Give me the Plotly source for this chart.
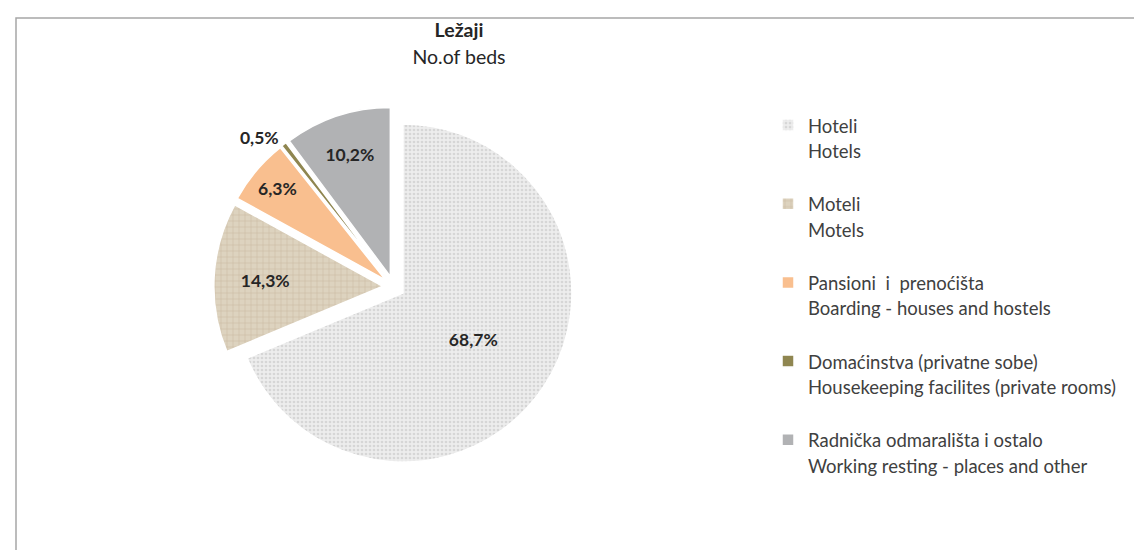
import plotly.graph_objects as go

categories_sr = ["Hoteli", "Moteli", "Pansioni  i  prenoćišta", "Domaćinstva (privatne sobe)", "Radnička odmarališta i ostalo"]
categories_en = ["Hotels", "Motels", "Boarding - houses and hostels", "Housekeeping facilites (private rooms)", "Working resting - places and other"]
values = [68.7, 14.3, 6.3, 0.5, 10.2]

colors = ["#ededed", "#ddd3bf", "#f9bf8f", "#8f8650", "#b1b2b4"]
pattern_shapes = [".", "+", "", "", ""]
pattern_fg = ["#d6d6d6", "#c4b69c", "#f9bf8f", "#8f8650", "#b1b2b4"]

FS = 18.5
legend_labels = [
    f"<span style='font-size:{FS}px'>{a}</span><br><span style='font-size:{FS}px'>{b}</span><br> "
    for a, b in zip(categories_sr, categories_en)
]
text_labels = [f"{v:.1f}".replace(".", ",") + "%" for v in values]
positions = ["inside", "inside", "inside", "outside", "inside"]

W, H = 1142, 550
cx, cy, r, pull = 385.8, 278.9, 169, 0.065
half = r * (1 + pull)

fig = go.Figure(go.Pie(
    labels=legend_labels,
    values=values,
    text=text_labels,
    textinfo="text",
    textposition=positions,
    insidetextorientation="horizontal",
    textfont=dict(family="Lato", size=17.5, color="#262626", weight="bold"),
    sort=False,
    direction="clockwise",
    rotation=0,
    pull=[pull] * len(values),
    marker=dict(
        colors=colors,
        line=dict(color="white", width=1.5),
        pattern=dict(shape=pattern_shapes, fgcolor=pattern_fg, bgcolor=colors,
                     size=[4, 6, 8, 8, 8], solidity=[0.35, 0.15, 0.3, 0.3, 0.3]),
    ),
    domain=dict(x=[(cx - half) / W, (cx + half) / W], y=[(H - cy - half) / H, (H - cy + half) / H]),
    hoverinfo="label+percent",
))

fig.update_layout(
    width=W, height=H,
    margin=dict(l=0, r=0, t=0, b=0),
    paper_bgcolor="white",
    font=dict(family="Lato", color="#404040"),
    title=dict(
        text="<span style='font-size:19.5px'><b>Ležaji</b></span><br><span style='font-size:19.5px'>No.of beds</span>",
        x=451 / W, xanchor="center", y=1 - 28.5 / H, yanchor="top",
        font=dict(size=21.5, color="#262626", family="Lato"),
    ),
    legend=dict(
        x=760 / W, xanchor="left", y=1 - 98 / H, yanchor="top",
        font=dict(size=19.4, color="#404040", family="Lato"),
        valign="top",
        itemwidth=30,
        itemclick=False,
        bgcolor="rgba(0,0,0,0)",
    ),
    shapes=[dict(type="rect", xref="paper", yref="paper",
                 x0=8 / W, x1=1.02, y0=-0.05, y1=1 - 10 / H,
                 line=dict(color="#a6a6a6", width=1.5), layer="below")],
)

fig.write_html("out.html")
